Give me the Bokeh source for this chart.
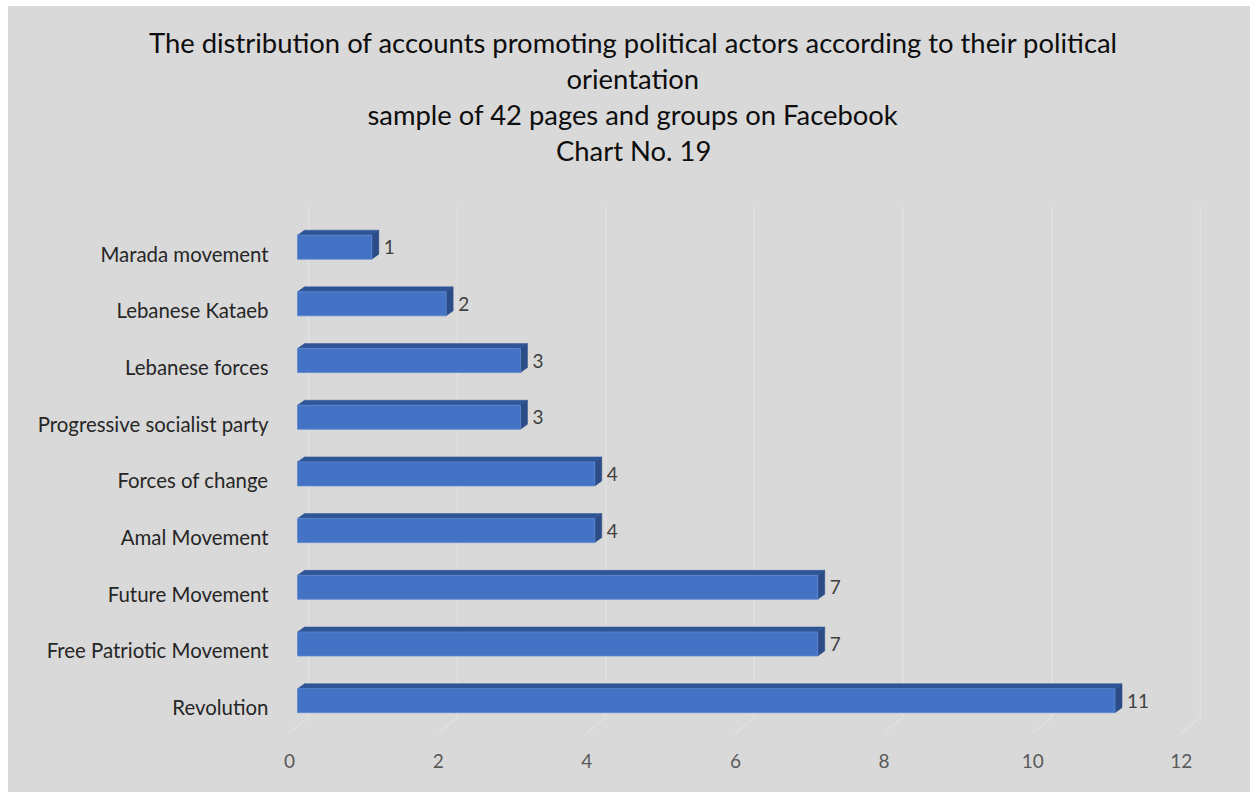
from bokeh.plotting import figure
from bokeh.models import Range1d, FixedTicker, Spacer, Title
from bokeh.layouts import column, row
from bokeh.embed import file_html
from bokeh.resources import INLINE
from bokeh.core.properties import value

# ---- data ----
categories = ["Revolution", "Free Patriotic Movement", "Future Movement", "Amal Movement",
              "Forces of change", "Progressive socialist party", "Lebanese forces",
              "Lebanese Kataeb", "Marada movement"]
counts = [11, 7, 7, 4, 4, 3, 3, 2, 1]
x_ticks = [0, 2, 4, 6, 8, 10, 12]
title_lines = ["The distribution of accounts promoting political actors according to their political",
               "orientation",
               "sample of 42 pages and groups on Facebook",
               "Chart No. 19"]

BG = "#d9d9d9"
FONT = "Lato"

# ---- layout constants (pixels) ----
W, H = 1242, 786
BL, BR, BT, BB = 281, 32, 199, 57
X0, X1 = 0, 12.5
Y0, Y1 = -0.5, 8.85
SX = (W - BL - BR) / (X1 - X0)      # px per x unit
SY = (H - BT - BB) / (Y1 - Y0)      # px per y unit

def ux(px):
    return px / SX

def uy(px):
    return px / SY

p = figure(width=W, height=H, output_backend="svg", toolbar_location=None,
           x_range=Range1d(X0, X1), y_range=Range1d(Y0, Y1),
           min_border_left=BL, min_border_right=BR, min_border_top=BT, min_border_bottom=BB)
p.background_fill_color = BG
p.border_fill_color = BG
p.outline_line_color = None
p.xgrid.visible = False
p.ygrid.visible = False
p.styles = {"background-color": BG}

# ---- title: four lines, each centred on the chart (x = 624 px) ----
TITLE_CX = 624
line_px_widths = [967, 132, 530, 153]     # rendered widths at 27.4px Lato
# gap filler between the last title line and the plot area
p.add_layout(Title(text=" ", text_font_size="1px", standoff=35), "above")
for line, w in zip(reversed(title_lines), reversed(line_px_widths)):
    p.add_layout(Title(text=line, align="left", offset=TITLE_CX - w / 2 - BL,
                       text_font=FONT, text_font_size="27.4px", text_font_style="normal",
                       text_color="#0d0d0d", standoff=1), "above")

# ---- 3D-style grid: back wall vertical + floor slant ----
g_back_dx = ux(19)
gx, gy = [], []
for tk in x_ticks:
    gx.append([tk + g_back_dx, tk + g_back_dx, tk])
    gy.append([Y1, -uy(10), -uy(26)])
p.multi_line(gx, gy, line_color="#e3e3e3", line_width=1.2)

# ---- bars ----
front_dx = ux(8)
depth_dx = ux(7)
depth_dy = uy(5)
lift = uy(6.5)
half_h = uy(12)

ys = list(range(len(categories)))
left = [front_dx] * len(counts)
right = [c + front_dx for c in counts]
bottom = [y + lift - half_h for y in ys]
top = [y + lift + half_h for y in ys]

top_xs, top_ys, side_xs, side_ys = [], [], [], []
for l, r, b, tp in zip(left, right, bottom, top):
    top_xs.append([l, r, r + depth_dx, l + depth_dx])
    top_ys.append([tp, tp, tp + depth_dy, tp + depth_dy])
    side_xs.append([r, r + depth_dx, r + depth_dx, r])
    side_ys.append([b, b + depth_dy, tp + depth_dy, tp])

p.patches(top_xs, top_ys, fill_color="#2f5597", line_color="#2f5597", line_width=0.5)
p.patches(side_xs, side_ys, fill_color="#2b4c87", line_color="#2b4c87", line_width=0.5)
p.quad(left=left, right=right, bottom=bottom, top=top,
       fill_color="#4472c4", line_color="#5b86d0", line_width=0.8)

# ---- value labels ----
p.text(x=[r + ux(12) for r in right], y=[y + lift for y in ys], text=[str(c) for c in counts],
       text_font=value(FONT), text_font_size="19px", text_color="#404040",
       text_align="left", text_baseline="middle")

# ---- axes ----
p.xaxis.ticker = FixedTicker(ticks=x_ticks)
p.xaxis.axis_line_color = None
p.xaxis.major_tick_line_color = None
p.xaxis.minor_tick_line_color = None
p.xaxis.major_tick_out = 0
p.xaxis.major_label_standoff = 18
p.xaxis.major_label_text_font = FONT
p.xaxis.major_label_text_font_size = "19px"
p.xaxis.major_label_text_color = "#595959"

p.yaxis.ticker = FixedTicker(ticks=ys)
p.yaxis.major_label_overrides = {i: c for i, c in enumerate(categories)}
p.yaxis.axis_line_color = None
p.yaxis.major_tick_line_color = None
p.yaxis.minor_tick_line_color = None
p.yaxis.major_tick_out = 0
p.yaxis.major_label_standoff = 21
p.yaxis.major_label_text_font = FONT
p.yaxis.major_label_text_font_size = "20.4px"
p.yaxis.major_label_text_color = "#262626"

layout = column(Spacer(height=6), row(Spacer(width=8), p))
open("out.html", "w").write(file_html(layout, INLINE))
